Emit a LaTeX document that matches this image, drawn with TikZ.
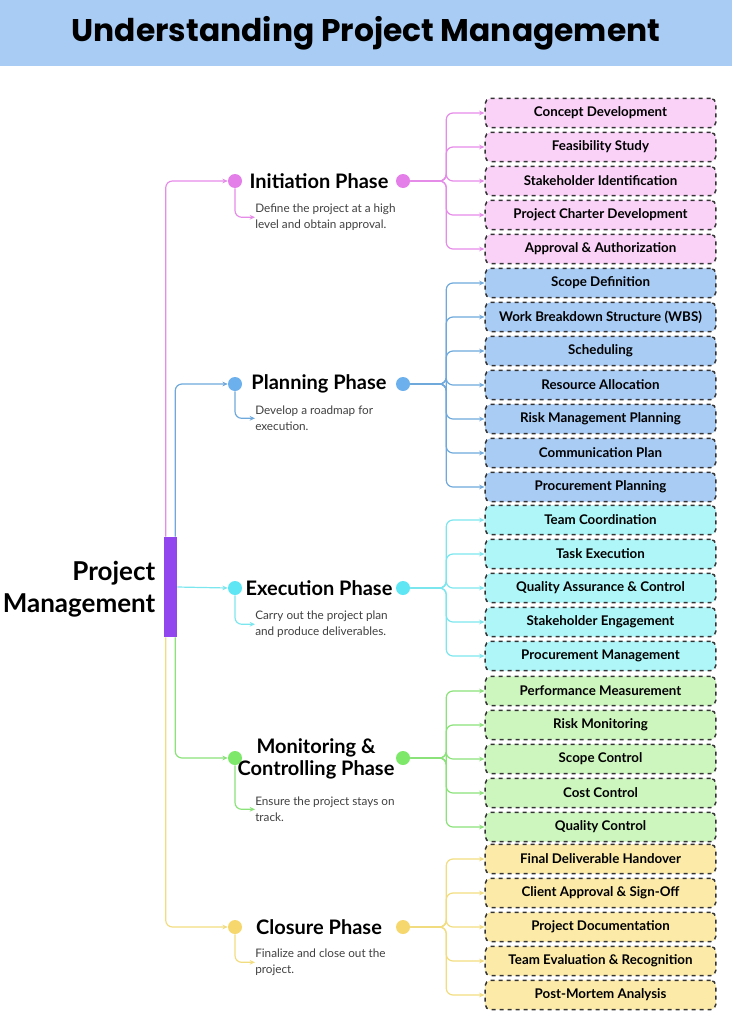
\documentclass[tikz,border=0pt]{standalone}
\usepackage{fontspec}
\setmainfont{Lato}
\newfontfamily\pop{Poppins}
\usetikzlibrary{arrows.meta}
\definecolor{pkL}{HTML}{E58BE8}\definecolor{pkF}{HTML}{FAD2F8}\definecolor{pkD}{HTML}{E47EE8}
\definecolor{blL}{HTML}{6FA9DC}\definecolor{blF}{HTML}{A9CCF5}\definecolor{blD}{HTML}{6CB0EE}
\definecolor{cyL}{HTML}{7BE6EE}\definecolor{cyF}{HTML}{AEF6F8}\definecolor{cyD}{HTML}{5EE6F5}
\definecolor{grL}{HTML}{8BE27A}\definecolor{grF}{HTML}{CDF6BE}\definecolor{grD}{HTML}{7DE86A}
\definecolor{ylL}{HTML}{F2DC80}\definecolor{ylF}{HTML}{FCEBA8}\definecolor{ylD}{HTML}{F5D76E}
\definecolor{hdr}{HTML}{A9CCF5}\definecolor{bar}{HTML}{9146EE}
\tikzset{
 itembox/.style={draw=black!80,dashed,line width=1.1pt,rounded corners=4pt,minimum width=173pt,minimum height=22pt,font=\fontsize{10}{11}\selectfont\bfseries,inner sep=0pt},
 dot/.style={circle,fill=#1,minimum size=10.5pt,inner sep=0pt},
 conn/.style={draw=#1,line width=0.9pt,rounded corners=5pt,-{Stealth[length=4pt,width=3.5pt]}},
 phase/.style={font=\fontsize{15}{17}\selectfont\bfseries,align=center},
 desc/.style={font=\fontsize{8.8}{11.5}\selectfont,text=black!75,align=left,anchor=north west,inner sep=0pt}
}
\begin{document}
\begin{tikzpicture}[x=0.75pt,y=-0.75pt]
\useasboundingbox (0,0) rectangle (732,1024);
\fill[hdr] (0,0) rectangle (732,66);
\node (title) at (366,33) {\pop\fontsize{23.5}{28}\selectfont\bfseries Understanding Project Management};
\node[fill=bar,minimum width=9.75pt,minimum height=75pt,inner sep=0pt] (bar) at (170.5,587) {};
\node[anchor=east,align=right,font=\fontsize{19.5}{24}\selectfont\bfseries] (pm) at (160,589) {Project\\Management};
\newcommand\phase[7]{% name, y, color key, desc, desc y, items, start
 \node[dot=#3D] (#1L) at (235,#2) {};
 \node[dot=#3D] (#1R) at (403,#2) {};
 \node[desc] (#1d) at (255,#5) {#4};
 \draw[conn=#3L] (#1L.south) |- (#1d.west);
 \foreach \t [count=\i from 0] in {#6} {
   \pgfmathsetmacro\yy{#7+34*\i}
   \node[itembox,fill=#3F] (#1b\i) at (600.5,\yy) {\t};
   \draw[conn=#3L] (#1R.east) -- ++(36,0) |- (#1b\i.west);
 }
}
\phase{a}{181}{pk}{Define the project at a high\\level and obtain approval.}{204}{Concept Development,Feasibility Study,Stakeholder Identification,Project Charter Development,Approval {\&} Authorization}{113}
\node[phase] (aT) at (319,181) {Initiation Phase};
\phase{b}{384}{bl}{Develop a roadmap for\\execution.}{406}{Scope Definition,Work Breakdown Structure (WBS),Scheduling,Resource Allocation,Risk Management Planning,Communication Plan,Procurement Planning}{283}
\node[phase] (bT) at (319,384) {Planning Phase};
\phase{c}{588}{cy}{Carry out the project plan\\and produce deliverables.}{611}{Team Coordination,Task Execution,Quality Assurance {\&} Control,Stakeholder Engagement,Procurement Management}{520}
\node[phase] (cT) at (319,588) {Execution Phase};
\phase{d}{758}{gr}{Ensure the project stays on\\track.}{797}{Performance Measurement,Risk Monitoring,Scope Control,Cost Control,Quality Control}{691}
\node[phase] (dT) at (316,759) {Monitoring {\&}\\Controlling Phase};
\phase{e}{927}{yl}{Finalize and close out the\\project.}{949}{Final Deliverable Handover,Client Approval {\&} Sign-Off,Project Documentation,Team Evaluation {\&} Recognition,Post-Mortem Analysis}{859}
\node[phase] (eT) at (319,927) {Closure Phase};
\draw[conn=pkL] ([xshift=1.5pt]bar.north west) |- (aL.west);
\draw[conn=blL] ([xshift=-1.5pt]bar.north east) |- (bL.west);
\draw[conn=cyL] (bar.east) -- (cL.west);
\draw[conn=grL] ([xshift=-1.5pt]bar.south east) |- (dL.west);
\draw[conn=ylL] ([xshift=1.5pt]bar.south west) |- (eL.west);
\end{tikzpicture}
\end{document}
